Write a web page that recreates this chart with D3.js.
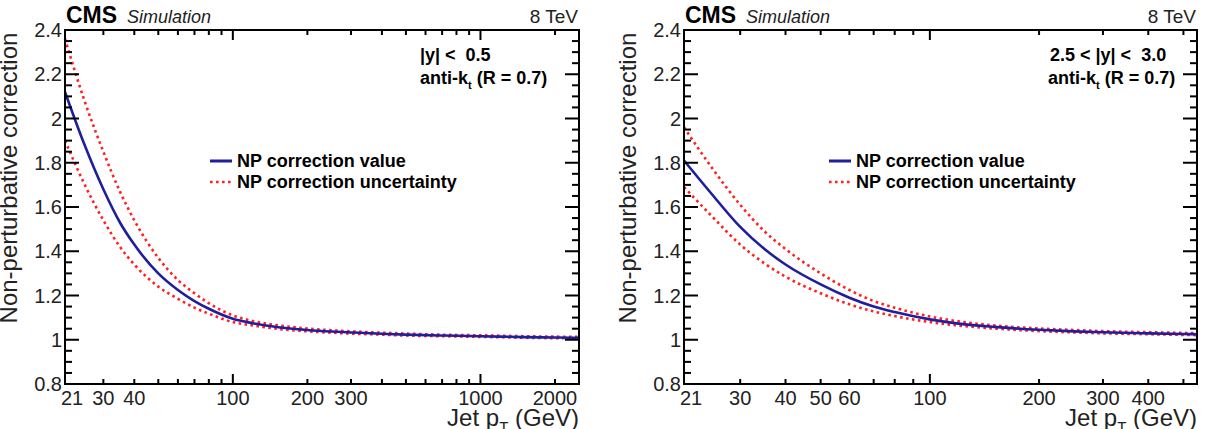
<!DOCTYPE html>
<html>
<head>
<meta charset="utf-8">
<script src="https://cdn.jsdelivr.net/npm/d3@7"></script>
<style>
  body { margin: 0; background: #fff; }
  svg { display: block; font-family: "Liberation Sans", Arial, sans-serif; }
</style>
</head>
<body>
<svg id="chart" width="1209" height="429"></svg>
<script>
// values
const ptLeft = [21, 25, 30, 35, 40, 50, 60, 70, 80, 100, 120, 150, 200, 250, 300, 400, 500, 700, 1000, 1500, 2000, 2500];
const npLeft = [2.12, 1.89, 1.68, 1.53, 1.43, 1.30, 1.225, 1.175, 1.14, 1.095, 1.075, 1.058, 1.044, 1.037, 1.033, 1.027, 1.023, 1.019, 1.016, 1.012, 1.010, 1.009];
const upLeft = [2.36, 2.09, 1.85, 1.67, 1.54, 1.37, 1.27, 1.21, 1.165, 1.11, 1.085, 1.066, 1.051, 1.043, 1.038, 1.032, 1.028, 1.023, 1.020, 1.016, 1.014, 1.013];
const loLeft = [1.90, 1.71, 1.54, 1.42, 1.34, 1.24, 1.185, 1.145, 1.118, 1.08, 1.065, 1.05, 1.038, 1.032, 1.028, 1.023, 1.019, 1.016, 1.013, 1.009, 1.007, 1.006];

const ptRight = [21, 25, 30, 35, 40, 50, 60, 70, 80, 100, 120, 150, 200, 250, 300, 400, 500, 545];
const npRight = [1.81, 1.66, 1.51, 1.41, 1.34, 1.25, 1.19, 1.15, 1.125, 1.092, 1.073, 1.058, 1.045, 1.038, 1.034, 1.029, 1.026, 1.025];
const upRight = [1.96, 1.78, 1.61, 1.49, 1.41, 1.30, 1.225, 1.175, 1.145, 1.105, 1.083, 1.065, 1.051, 1.044, 1.039, 1.034, 1.031, 1.030];
const loRight = [1.69, 1.56, 1.43, 1.345, 1.285, 1.21, 1.16, 1.128, 1.107, 1.08, 1.064, 1.051, 1.039, 1.033, 1.029, 1.025, 1.022, 1.021];

const xLabelsLeft = [21, 30, 40, 100, 200, 300, 1000, 2000];
const xLabelsRight = [21, 30, 40, 50, 60, 100, 200, 300, 400];
const yLabels = [0.8, 1, 1.2, 1.4, 1.6, 1.8, 2, 2.2, 2.4];

const legendNames = ["NP correction value", "NP correction uncertainty"];

const svg = d3.select("#chart");
const blue = "#1e1e9e", red = "#ff2020";

function drawPanel(cfg) {
  const left = cfg.left, right = cfg.right, top = 30, bottom = 384;
  const x = d3.scaleLog().domain(cfg.xDomain).range([left, right]);
  const y = d3.scaleLinear().domain([0.8, 2.4]).range([bottom, top]);
  const g = svg.append("g");

  // curves
  const line = d3.line().curve(d3.curveMonotoneX)
    .x((d) => x(d[0])).y((d) => y(d[1]));
  const mk = (vals) => cfg.pt.map((p, i) => [p, vals[i]]);

  g.append("path").datum(mk(cfg.up)).attr("d", line)
    .attr("fill", "none").attr("stroke", red).attr("stroke-width", 2.6)
    .attr("stroke-dasharray", "2.6,3.4");
  g.append("path").datum(mk(cfg.lo)).attr("d", line)
    .attr("fill", "none").attr("stroke", red).attr("stroke-width", 2.6)
    .attr("stroke-dasharray", "2.6,3.4");
  g.append("path").datum(mk(cfg.np)).attr("d", line)
    .attr("fill", "none").attr("stroke", blue).attr("stroke-width", 2.6);

  // frame
  g.append("rect").attr("x", left).attr("y", top)
    .attr("width", right - left).attr("height", bottom - top)
    .attr("fill", "none").attr("stroke", "#000").attr("stroke-width", 2);

  // x ticks (log), bottom and top
  const xt = [];
  for (let dec = 10; dec <= 1000; dec *= 10) {
    for (let k = 1; k <= 9; k++) {
      const v = k * dec;
      if (v > cfg.xDomain[0] && v < cfg.xDomain[1]) xt.push({ v, major: k === 1 });
    }
  }
  xt.forEach((t) => {
    const len = t.major ? 10 : 5;
    g.append("line").attr("x1", x(t.v)).attr("x2", x(t.v))
      .attr("y1", bottom).attr("y2", bottom - len)
      .attr("stroke", "#000").attr("stroke-width", 2);
    g.append("line").attr("x1", x(t.v)).attr("x2", x(t.v))
      .attr("y1", top).attr("y2", top + len)
      .attr("stroke", "#000").attr("stroke-width", 2);
  });
  cfg.xLabels.forEach((v, i) => {
    g.append("text").attr("x", x(v) + (i === 0 ? 7 : 0)).attr("y", 405)
      .attr("text-anchor", "middle").attr("font-size", 20).attr("fill", "#222")
      .text(v);
  });

  // y ticks, left and right
  d3.range(0, 33).forEach((i) => {
    const v = 0.8 + i * 0.05;
    const major = i % 4 === 0;
    const len = major ? 14 : 7;
    g.append("line").attr("x1", left).attr("x2", left + len)
      .attr("y1", y(v)).attr("y2", y(v)).attr("stroke", "#000").attr("stroke-width", 2);
    g.append("line").attr("x1", right).attr("x2", right - len)
      .attr("y1", y(v)).attr("y2", y(v)).attr("stroke", "#000").attr("stroke-width", 2);
  });
  yLabels.forEach((v) => {
    g.append("text").attr("x", left - 3).attr("y", y(v) + 7)
      .attr("text-anchor", "end").attr("font-size", 20).attr("fill", "#222")
      .text(v);
  });

  // axis titles
  const yt = g.append("text").attr("transform", `translate(${cfg.yTitleX},178) rotate(-90)`)
    .attr("text-anchor", "middle").attr("font-size", 24).attr("fill", "#222");
  yt.text("Non-perturbative correction");

  const xtt = g.append("text").attr("x", right).attr("y", 426)
    .attr("text-anchor", "end").attr("font-size", 24).attr("fill", "#222");
  xtt.append("tspan").text("Jet p");
  xtt.append("tspan").attr("font-size", 15).attr("dy", 6).text("T");
  xtt.append("tspan").attr("dy", -6).text(" (GeV)");

  // CMS label
  g.append("text").attr("x", left + 1).attr("y", 23)
    .attr("font-size", 23).attr("font-weight", "bold").text("CMS");
  g.append("text").attr("x", left + 62).attr("y", 23)
    .attr("font-size", 18).attr("font-style", "italic").attr("fill", "#222").text("Simulation");
  g.append("text").attr("x", right - 1).attr("y", 23).attr("text-anchor", "end")
    .attr("font-size", 19).attr("fill", "#222").text("8 TeV");

  // region text
  g.append("text").attr("x", cfg.txtX1).attr("y", 61)
    .attr("font-size", 18).attr("font-weight", "bold").attr("xml:space", "preserve")
    .text(cfg.rapidity);
  const ak = g.append("text").attr("x", cfg.txtX2).attr("y", 84)
    .attr("font-size", 18).attr("font-weight", "bold");
  ak.append("tspan").text("anti-k");
  ak.append("tspan").attr("font-size", 11).attr("dy", 5).text("t");
  ak.append("tspan").attr("dy", -5).text(" (R = 0.7)");

  // legend
  const lx = left + 145;
  g.append("line").attr("x1", lx).attr("x2", lx + 22).attr("y1", 161).attr("y2", 161)
    .attr("stroke", blue).attr("stroke-width", 3);
  g.append("line").attr("x1", lx).attr("x2", lx + 22).attr("y1", 182).attr("y2", 182)
    .attr("stroke", red).attr("stroke-width", 2.6).attr("stroke-dasharray", "2.6,3.4");
  legendNames.forEach((n, i) => {
    g.append("text").attr("x", lx + 27).attr("y", 167 + i * 21)
      .attr("font-size", 18).attr("font-weight", "bold").text(n);
  });
}

drawPanel({
  left: 65, right: 579, xDomain: [21, 2500],
  pt: ptLeft, np: npLeft, up: upLeft, lo: loLeft,
  xLabels: xLabelsLeft, yTitleX: 17,
  rapidity: "|y| <  0.5", txtX1: 420, txtX2: 420
});
drawPanel({
  left: 684, right: 1197, xDomain: [21, 545],
  pt: ptRight, np: npRight, up: upRight, lo: loRight,
  xLabels: xLabelsRight, yTitleX: 636,
  rapidity: "2.5 < |y| <  3.0", txtX1: 1050, txtX2: 1048
});
</script>
</body>
</html>
